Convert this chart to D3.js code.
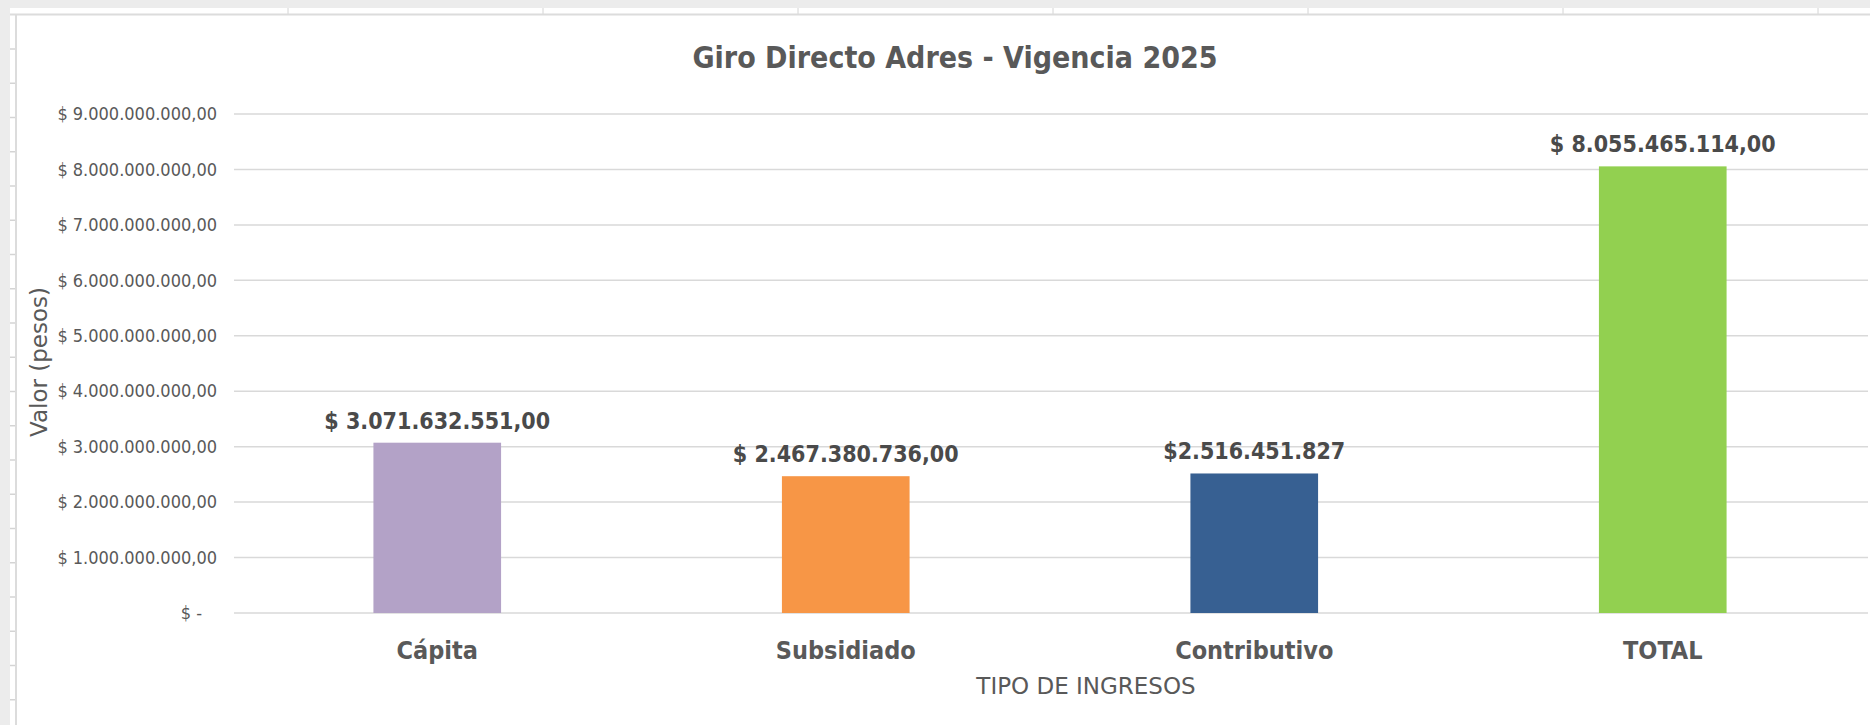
<!DOCTYPE html>
<html>
<head>
<meta charset="utf-8">
<script src="https://cdn.jsdelivr.net/npm/d3@7"></script>
<style>
  html, body { margin: 0; padding: 0; background: #ececec; }
  svg { display: block; }
</style>
</head>
<body>
<svg id="chart" width="1870" height="725"></svg>
<script>
// ---- Data ----
const categories = ["Cápita", "Subsidiado", "Contributivo", "TOTAL"];
const values = [3071632551, 2467380736, 2516451827, 8055465114];
const valueLabels = ["$ 3.071.632.551,00", "$ 2.467.380.736,00", "$2.516.451.827", "$ 8.055.465.114,00"];
const barColors = ["#b3a2c7", "#f79646", "#376092", "#92d050"];
const yTicks = [0, 1e9, 2e9, 3e9, 4e9, 5e9, 6e9, 7e9, 8e9, 9e9];
const yTickLabels = ["$ -", "$ 1.000.000.000,00", "$ 2.000.000.000,00", "$ 3.000.000.000,00", "$ 4.000.000.000,00",
  "$ 5.000.000.000,00", "$ 6.000.000.000,00", "$ 7.000.000.000,00", "$ 8.000.000.000,00", "$ 9.000.000.000,00"];
const chartTitle = "Giro Directo Adres - Vigencia 2025";
const yTitle = "Valor (pesos)";
const xTitle = "TIPO DE INGRESOS";

const svg = d3.select("#chart");

// ---- Spreadsheet frame (decoration) ----
svg.append("rect").attr("x", 0).attr("y", 0).attr("width", 1870).attr("height", 725).attr("fill", "#ececec");
svg.append("rect").attr("x", 10).attr("y", 8).attr("width", 1860).attr("height", 8).attr("fill", "#ffffff");
svg.append("rect").attr("x", 10).attr("y", 8).attr("width", 7).attr("height", 717).attr("fill", "#ffffff");
const colLines = d3.range(288, 1870, 255);
svg.selectAll(".colline").data(colLines).enter().append("line")
  .attr("x1", d => d).attr("x2", d => d).attr("y1", 8).attr("y2", 14)
  .attr("stroke", "#d4d4d4").attr("stroke-width", 1);
const rowLines = d3.range(49, 725, 34.25);
svg.selectAll(".rowline").data(rowLines).enter().append("line")
  .attr("x1", 10).attr("x2", 17).attr("y1", d => d).attr("y2", d => d)
  .attr("stroke", "#d4d4d4").attr("stroke-width", 1.5);
svg.append("line").attr("x1", 10).attr("x2", 1870).attr("y1", 14.5).attr("y2", 14.5).attr("stroke", "#dcdcdc").attr("stroke-width", 2);
svg.append("line").attr("x1", 16).attr("x2", 16).attr("y1", 14).attr("y2", 725).attr("stroke", "#dcdcdc").attr("stroke-width", 2);

// Chart area
svg.append("rect").attr("x", 17).attr("y", 16).attr("width", 1853).attr("height", 709).attr("fill", "#ffffff");

// ---- Scales ----
const y = d3.scaleLinear().domain([0, 9e9]).range([613, 114]);
const x = d3.scaleBand().domain(categories).range([233, 1867]).paddingInner(0.6875).paddingOuter(0.34375);

// Gridlines
svg.append("g").selectAll("line").data(yTicks).enter().append("line")
  .attr("x1", 234).attr("x2", 1868)
  .attr("y1", d => y(d)).attr("y2", d => y(d))
  .attr("stroke", "#d9d9d9").attr("stroke-width", 1.5);

// Y axis labels
const yAxis = d3.axisLeft(y).tickValues(yTicks).tickSize(0).tickPadding(0)
  .tickFormat((d, i) => yTickLabels[i]);
const gy = svg.append("g").attr("transform", "translate(217,0)").call(yAxis);
gy.select(".domain").remove();
gy.selectAll("text")
  .attr("font-family", "'DejaVu Sans Condensed', 'DejaVu Sans', sans-serif")
  .attr("font-size", 18).attr("fill", "#595959")
  .attr("dx", d => d === 0 ? -15 : 0);

// Bars
svg.append("g").selectAll("rect").data(categories).enter().append("rect")
  .attr("x", d => x(d)).attr("width", x.bandwidth())
  .attr("y", (d, i) => y(values[i])).attr("height", (d, i) => y(0) - y(values[i]))
  .attr("fill", (d, i) => barColors[i]);

// Value labels
svg.append("g").selectAll("text").data(categories).enter().append("text")
  .attr("x", d => x(d) + x.bandwidth() / 2)
  .attr("y", (d, i) => y(values[i]) - 14)
  .attr("text-anchor", "middle")
  .attr("font-family", "'DejaVu Sans Condensed', 'DejaVu Sans', sans-serif")
  .attr("font-weight", "bold").attr("font-size", 23).attr("fill", "#4a4a4a")
  .text((d, i) => valueLabels[i]);

// X axis category labels
const xAxis = d3.axisBottom(x).tickSize(0).tickPadding(0);
const gx = svg.append("g").attr("transform", "translate(0,641)").call(xAxis);
gx.select(".domain").remove();
gx.selectAll("text")
  .attr("font-family", "'DejaVu Sans Condensed', 'DejaVu Sans', sans-serif")
  .attr("font-weight", "bold").attr("font-size", 25).attr("fill", "#595959");

// Titles
svg.append("text").attr("x", 955).attr("y", 68).attr("text-anchor", "middle")
  .attr("font-family", "'DejaVu Sans Condensed', 'DejaVu Sans', sans-serif")
  .attr("font-weight", "bold").attr("font-size", 30).attr("fill", "#595959")
  .text(chartTitle);

svg.append("text").attr("x", 1086).attr("y", 694).attr("text-anchor", "middle")
  .attr("font-family", "'DejaVu Sans', sans-serif")
  .attr("font-size", 23).attr("fill", "#595959")
  .text(xTitle);

svg.append("text").attr("transform", "translate(47,362) rotate(-90)").attr("text-anchor", "middle")
  .attr("font-family", "'DejaVu Sans', sans-serif")
  .attr("font-size", 23).attr("fill", "#595959")
  .text(yTitle);
</script>
</body>
</html>
